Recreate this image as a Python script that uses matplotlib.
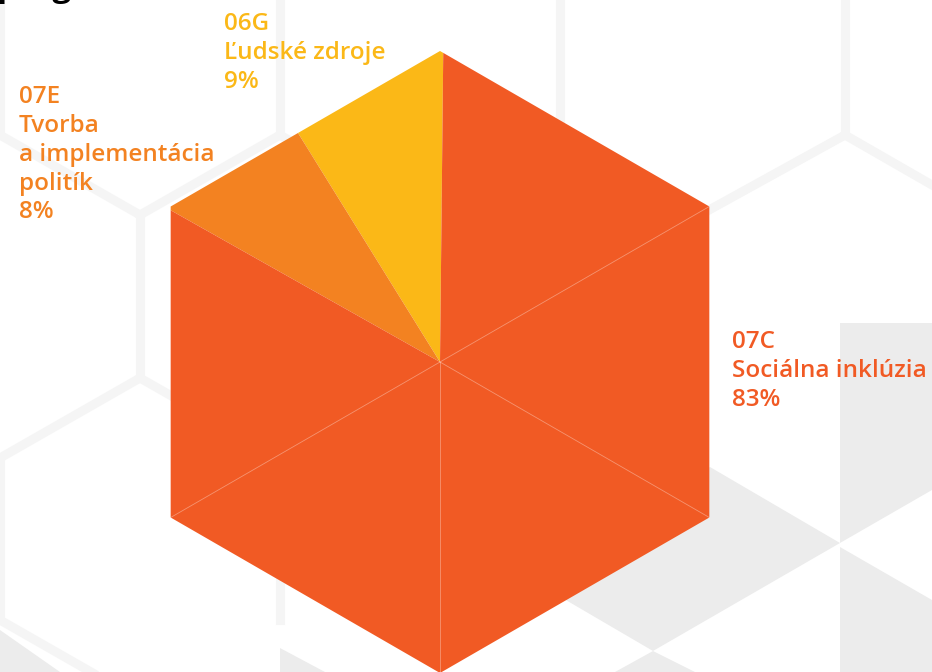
import numpy as np
import matplotlib.pyplot as plt
from matplotlib.patches import Polygon

# data
codes = ['06G', '07E', '07C']
names = ['Ľudské zdroje', 'Tvorba\na implementácia\npolitík', 'Sociálna inklúzia']
shares = [9, 8, 83]
colors = ['#FBB817', '#F38221', '#F15A24']

W, H = 932, 672
fig = plt.figure(figsize=(W / 100, H / 100), dpi=100)
ax = fig.add_axes([0, 0, 1, 1])


def img(pts):
    # image coords (y down) -> axes coords (y up)
    return [(x, H - y) for x, y in pts]


# background honeycomb, very light
line_c = '#f5f5f5'
segs = [
    [(0, 0), (0, 135)], [(280, 0), (280, 135)], [(560, 0), (560, 135)], [(845, 0), (845, 135)],
    [(0, 135), (140, 215)], [(280, 135), (140, 215)], [(280, 135), (420, 215)],
    [(560, 135), (420, 215)], [(560, 135), (700, 215)], [(845, 135), (700, 215)],
    [(845, 135), (932, 185)],
    [(140, 215), (140, 378)], [(140, 378), (0, 458)], [(140, 378), (280, 458)],
    [(0, 458), (0, 620)], [(280, 458), (280, 620)], [(0, 620), (140, 700)],
]
for s in segs:
    p = np.array(img(s))
    ax.plot(p[:, 0], p[:, 1], color=line_c, lw=6.5, solid_capstyle='projecting', zorder=0)

gray = '#ececec'
for poly in [
    [(710, 467), (840, 543), (653, 651), (523, 575)],
    [(653, 651), (615, 672), (695, 672)],
    [(840, 323), (932, 323), (932, 490), (840, 543)],
    [(840, 547), (932, 600), (932, 672), (840, 672)],
    [(0, 630), (60, 672), (0, 672)],
    [(280, 648), (325, 672), (280, 672)],
]:
    ax.add_patch(Polygon(img(poly), closed=True, fc=gray, ec='none', zorder=0))

# hexagon pie
cx, cy, r = 440, H - 362, 311
ang = np.deg2rad(np.arange(90, 450, 60))
hx = cx + r * np.cos(ang)
hy = cy + r * np.sin(ang)
hexagon = Polygon(np.column_stack([hx, hy]), closed=True, transform=ax.transData)

wedges, _ = ax.pie(shares, colors=colors, startangle=89.4, counterclock=True,
                   radius=r + 40, center=(cx, cy), wedgeprops=dict(linewidth=0))
for w in wedges:
    w.set_clip_on(True)
    w.set_clip_path(hexagon)
    w.set_zorder(2)

# faint seams of the hexagon inside the big slice
for x, y in list(zip(hx, hy))[2:]:
    ax.plot([cx, x], [cy, y], color='white', lw=0.6, alpha=0.35, zorder=3)

# labels
font = dict(family='Open Sans', weight='semibold', fontsize=17.5, va='top', ha='left',
            linespacing=1.27, zorder=5)
pos = {'06G': (224, 12), '07E': (19, 85), '07C': (732, 330)}
for code, name, val, col in zip(codes, names, shares, colors):
    x, y = pos[code]
    ax.text(x, H - y, f'{code}\n{name}\n{val}%', color=col, **font)

# title cut by the top edge
ax.text(-4, H + 4, 'programov', family='Open Sans', weight='bold', fontsize=24,
        color='black', va='baseline', ha='left', zorder=5)

ax.set_xlim(0, W)
ax.set_ylim(0, H)
ax.set_aspect('auto')
ax.axis('off')
fig.savefig('out.png', dpi=100, facecolor='white')
